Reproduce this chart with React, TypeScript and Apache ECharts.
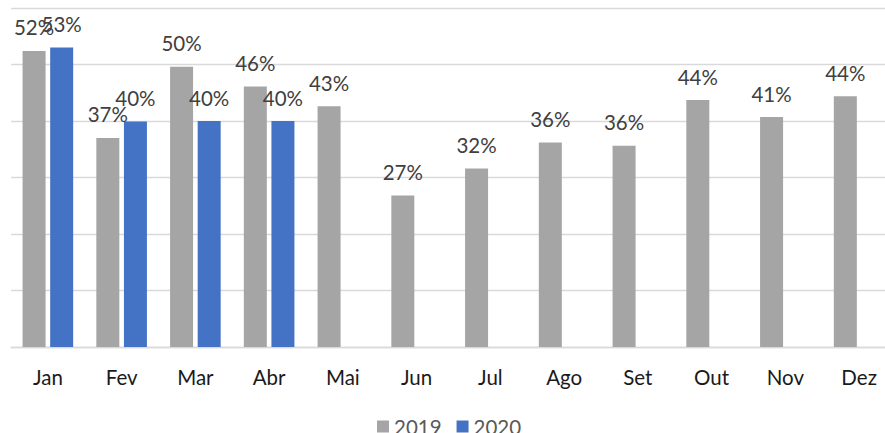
import React, { useEffect, useRef } from "react";
import * as echarts from "echarts";

const categories = ["Jan", "Fev", "Mar", "Abr", "Mai", "Jun", "Jul", "Ago", "Set", "Out", "Nov", "Dez"];
const series2019 = [52.4, 37.0, 49.6, 46.1, 42.6, 26.8, 31.6, 36.2, 35.6, 43.7, 40.7, 44.4];
const series2020 = [53.0, 39.9, 40.0, 40.0];
const yTicks = { min: 0, max: 60, interval: 10 };

export default function App() {
  const ref = useRef<HTMLDivElement>(null);
  useEffect(() => {
    if (!ref.current) return;
    const chart = echarts.init(ref.current, null, { renderer: "svg" });
    const font = "Lato, 'Noto Sans', sans-serif";
    const label = {
      show: true,
      position: "top",
      distance: 13,
      fontFamily: font,
      fontSize: 20.5,
      color: "#404040",
      formatter: (p: any) => Math.round(p.value) + "%",
    };
    chart.setOption({
      animation: false,
      textStyle: { fontFamily: font },
      grid: { left: 11, right: 0, top: 8, bottom: 86, containLabel: false },
      legend: {
        data: ["2019", "2020"],
        top: 411,
        left: 372,
        icon: "rect",
        itemWidth: 12,
        itemHeight: 12,
        itemGap: 15,
        textStyle: { fontFamily: font, fontSize: 20.5, color: "#595959" },
      },
      xAxis: {
        type: "category",
        data: categories,
        axisTick: { show: false },
        axisLine: { lineStyle: { color: "#d9d9d9", width: 1.3 } },
        axisLabel: { fontFamily: font, fontSize: 20.5, color: "#1a1a1a", margin: 19 },
      },
      yAxis: {
        type: "value",
        min: yTicks.min,
        max: yTicks.max,
        interval: yTicks.interval,
        axisLabel: { show: false },
        axisLine: { show: false },
        axisTick: { show: false },
        splitLine: { lineStyle: { color: "#d9d9d9", width: 1.3 } },
      },
      series: [
        {
          name: "2019",
          type: "bar",
          data: series2019,
          barWidth: 23,
          barGap: "20%",
          itemStyle: { color: "#a5a5a5" },
          label,
        },
        {
          name: "2020",
          type: "bar",
          data: series2020,
          barWidth: 23,
          barGap: "20%",
          itemStyle: { color: "#4472c4" },
          label,
        },
      ],
    });
    return () => chart.dispose();
  }, []);
  return (
    <div
      ref={ref}
      style={{ position: "fixed", left: 0, top: 0, width: 896, height: 433, background: "#fff" }}
    />
  );
}
